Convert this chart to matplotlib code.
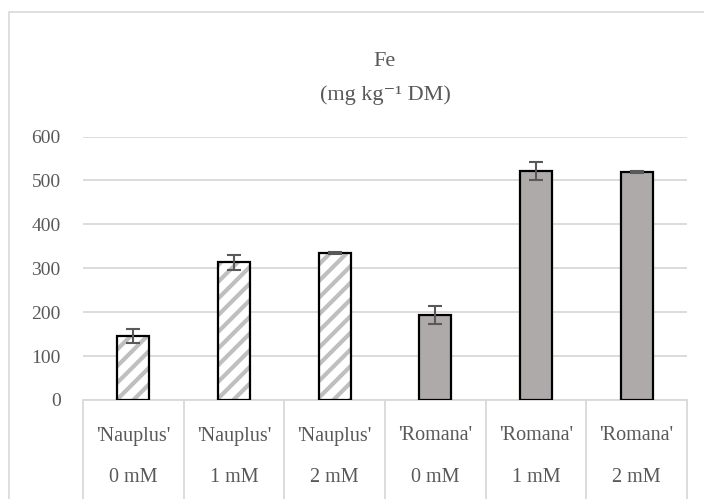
import numpy as np
import matplotlib
matplotlib.use("Agg")
import matplotlib.pyplot as plt
import matplotlib.transforms as mtransforms
from matplotlib.patches import Rectangle

# ---------------------------- Chart Data ---------------------------- #
cultivars = ["'Nauplus'", "'Nauplus'", "'Nauplus'", "'Romana'", "'Romana'", "'Romana'"]
treatments = ["0 mM", "1 mM", "2 mM", "0 mM", "1 mM", "2 mM"]
feValues = [146, 314, 335, 194, 521, 519]
feErrors = [16, 17, 2, 21, 21, 3]
isHatched = [True, True, True, False, False, False]

# ---------------------------- Styling ---------------------------- #
plt.rcParams['font.family'] = ['Liberation Serif', 'DejaVu Serif']
plt.rcParams['hatch.linewidth'] = 3.0
textColor = '#595959'
gridColor = '#D9D9D9'

figure = plt.figure(figsize=(7.04, 4.99), dpi=100)
# Chart area border
figure.patches.append(Rectangle((9/704, -0.05), 1.0, 0.05 + (499-12)/499, transform=figure.transFigure,
                                fill=False, edgecolor='#D9D9D9', linewidth=1.2))
ax = figure.add_axes([83/704, 99/499, 604/704, 263.5/499])

xPos = np.arange(len(feValues))
barWidth = 0.32
for i in xPos:
    if isHatched[i]:
        ax.bar(i, feValues[i], barWidth, color='white', edgecolor='#BFBFBF', hatch='//', linewidth=0, zorder=3)
        ax.bar(i, feValues[i], barWidth, fill=False, edgecolor='black', linewidth=1.6, zorder=4)
    else:
        ax.bar(i, feValues[i], barWidth, color='#AEAAA9', edgecolor='black', linewidth=1.6, zorder=4)
ax.errorbar(xPos, feValues, yerr=feErrors, fmt='none', ecolor=textColor, elinewidth=1.5, capsize=5, capthick=1.5, zorder=5)

ax.set_xlim(-0.5, len(feValues) - 0.5)
ax.set_ylim(0, 600)
ax.set_yticks(np.arange(0, 601, 100))
ax.yaxis.grid(True, color=gridColor, linewidth=1.3, zorder=0)
ax.set_axisbelow(True)
for side in ['left', 'right', 'top']:
    ax.spines[side].set_visible(False)
ax.spines['bottom'].set_color(gridColor)
ax.spines['bottom'].set_linewidth(1.3)
ax.tick_params(axis='y', length=0, labelsize=14, labelcolor=textColor, pad=16)
ax.set_xticks([])

# Two-level category axis
blended = mtransforms.blended_transform_factory(ax.transData, ax.transAxes)
ax.vlines(np.arange(len(feValues) + 1) - 0.5, -0.5, 0, transform=blended, colors=gridColor, linewidth=1.3, clip_on=False)
for i in xPos:
    ax.text(i, -36/263.5, cultivars[i], transform=blended, ha='center', va='center', fontsize=14.5, color=textColor)
    ax.text(i, -77/263.5, treatments[i], transform=blended, ha='center', va='center', fontsize=14.5, color=textColor)

# Title
figure.text(385/704, (499-62)/499, "Fe", ha='center', va='center', fontsize=16, color=textColor)
figure.text(385/704, (499-95)/499, "(mg kg\u207b\u00b9 DM)", ha='center', va='center', fontsize=16, color=textColor)

plt.savefig("out.png", dpi=100)
